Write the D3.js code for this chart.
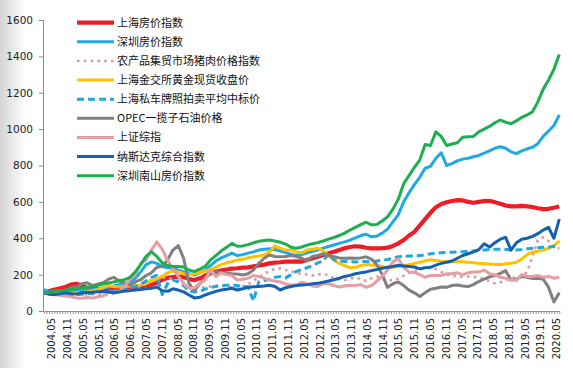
<!DOCTYPE html>
<html><head><meta charset="utf-8">
<script src="https://cdn.jsdelivr.net/npm/d3@7"></script>
<style>
html,body{margin:0;padding:0;background:#fff;}
svg{display:block;}
</style></head>
<body>
<svg id="c" width="573" height="368"></svg>
<script>
// ---- data (bimonthly readings, 2004.02 .. 2020.06) ----
const seriesNames = ["上海房价指数","深圳房价指数","农产品集贸市场猪肉价格指数","上海金交所黄金现货收盘价","上海私车牌照拍卖平均中标价","OPEC一揽子石油价格","上证综指","纳斯达克综合指数","深圳南山房价指数"];
const shHouse = [100,110,118,125,132,145,150,140,128,125,122,120,121,123,125,127,130,133,136,140,145,155,172,182,187,189,188,175,170,180,195,207,215,222,228,233,235,238,240,245,250,255,262,266,268,271,272,273,272,280,290,298,308,318,326,335,345,352,356,354,348,344,344,345,348,358,372,390,415,435,470,505,540,570,588,598,605,610,608,600,595,600,604,606,598,590,580,575,575,578,575,572,565,560,562,568,575];
const szHouse = [120,100,98,100,103,105,108,112,115,118,122,128,132,138,145,150,160,180,215,255,270,262,245,238,235,225,215,205,198,210,225,250,275,292,305,318,305,310,318,325,335,340,342,338,330,322,312,306,310,320,328,335,345,355,363,372,380,390,402,415,422,408,412,428,450,490,530,600,650,695,735,785,795,840,870,800,810,825,835,840,848,855,868,880,895,903,895,875,865,880,892,900,920,960,990,1020,1078];
const pork = [100,102,105,103,100,98,95,92,90,92,88,86,88,100,110,108,112,125,140,160,170,178,185,182,175,168,158,150,140,132,128,135,140,138,135,130,128,135,148,165,185,205,220,232,235,225,218,210,205,200,195,200,205,195,180,175,170,178,185,175,165,180,190,180,172,168,178,195,210,220,228,235,238,230,215,200,195,190,188,190,188,185,175,165,152,158,170,180,185,188,215,300,390,405,385,350,345];
const gold = [100,98,100,103,100,98,100,102,105,110,118,128,140,135,132,135,138,140,143,150,165,175,190,210,220,215,205,198,205,212,220,228,240,255,265,272,280,285,292,298,302,308,325,358,345,335,335,325,320,335,340,345,332,305,280,262,250,238,240,250,255,253,250,245,236,240,244,248,255,262,268,276,282,278,274,272,270,272,271,268,265,262,260,258,256,255,260,262,268,285,310,325,328,335,345,360,385];
const plate = [100,95,92,88,86,88,90,92,95,98,102,106,110,112,115,118,125,135,148,165,185,195,90,150,170,160,140,110,105,108,120,130,135,140,142,143,140,136,134,55,160,168,175,185,189,182,200,218,228,238,250,265,275,316,282,276,272,271,270,272,272,270,275,280,283,290,298,300,302,303,305,308,315,318,320,322,323,325,326,328,330,333,336,338,339,340,338,336,335,338,342,345,348,350,352,355,357];
const opec = [100,103,112,110,108,130,128,150,155,140,148,155,175,185,165,155,142,160,172,195,210,240,245,280,335,360,290,150,112,150,180,205,215,212,208,205,203,198,205,225,262,290,308,300,298,300,305,300,290,275,300,305,315,305,298,292,290,292,290,292,298,285,255,200,130,150,160,140,115,100,80,100,120,125,132,130,140,143,138,134,145,162,175,188,195,207,222,170,175,190,185,178,180,175,130,50,100];
const sse = [100,95,90,88,82,78,72,70,74,71,78,83,105,100,108,135,175,200,262,280,335,380,340,280,235,190,150,125,128,150,170,225,190,210,200,195,170,175,180,195,190,180,170,165,160,148,143,143,158,150,138,135,150,150,140,132,138,142,140,145,130,140,165,190,225,270,288,240,215,212,200,185,195,195,195,205,205,210,200,210,215,215,225,205,200,185,180,170,168,200,190,190,195,185,190,180,186];
const nasdaq = [100,92,90,95,100,95,93,100,102,103,106,108,105,100,104,110,112,115,118,122,125,132,112,108,122,115,105,88,72,75,88,98,108,115,120,125,115,122,130,133,135,137,142,135,115,128,135,140,143,145,150,152,158,165,172,180,190,196,205,210,215,222,228,235,240,245,252,248,245,242,232,238,240,252,262,268,275,290,305,315,325,338,370,352,375,395,405,335,375,395,400,410,425,445,460,400,505];
const nanshan = [100,103,108,110,115,118,122,127,130,136,142,148,154,160,166,172,185,215,255,300,325,300,265,250,244,245,242,225,217,230,245,280,305,330,350,372,356,358,365,375,383,388,390,385,378,368,350,345,352,362,370,376,385,395,404,415,428,445,460,475,488,474,476,495,518,560,615,700,745,790,830,915,910,985,960,910,918,925,955,958,960,985,1000,1015,1035,1050,1038,1030,1045,1065,1078,1095,1150,1220,1270,1330,1410];

const yTicks = [0,200,400,600,800,1000,1200,1400,1600];
const xTickLabels = ["2004.05","2004.11","2005.05","2005.11","2006.05","2006.11","2007.05","2007.11","2008.05","2008.11","2009.05","2009.11","2010.05","2010.11","2011.05","2011.11","2012.05","2012.11","2013.05","2013.11","2014.05","2014.11","2015.05","2015.11","2016.05","2016.11","2017.05","2017.11","2018.05","2018.11","2019.05","2019.11","2020.05"];

const seriesData = [shHouse, szHouse, pork, gold, plate, opec, sse, nasdaq, nanshan];
const colors = ["#ee1c25","#1ea9e6","#dc97a4","#ffc000","#1fa7e1","#808080","#e59ea3","#1560b0","#1fae4f"];
const widths = [4.2,3,2.6,3,3,3,3,3,3];
const dashes = [null,null,"2.6,4.2",null,"7,4",null,null,null,null];

// ---- layout ----
const svg = d3.select("#c");
const defs = svg.append("defs");
const grad = defs.append("linearGradient").attr("id","lg").attr("x1","0").attr("x2","1").attr("y1","0").attr("y2","0");
grad.append("stop").attr("offset","0").attr("stop-color","#d4d4d4");
grad.append("stop").attr("offset","1").attr("stop-color","#ffffff");
svg.append("rect").attr("width",573).attr("height",368).attr("fill","#fff");
svg.append("rect").attr("x",0).attr("y",0).attr("width",26).attr("height",368).attr("fill","url(#lg)");

const y = d3.scaleLinear().domain([0,1600]).range([311,20]);
// month index relative to 2004.05
const xm = d3.scaleLinear().domain([-3,193]).range([43.8,559.3]);
const nPts = shHouse.length;
const xi = d3.scaleLinear().domain([0,nPts-1]).range([xm(-3)+0.3, xm(193)]);

// y axis
const yAxis = d3.axisLeft(y).tickValues(yTicks).tickSize(4).tickPadding(6).tickFormat(d3.format("d"));
const gy = svg.append("g").attr("transform","translate(43,0)").call(yAxis);
gy.select(".domain").attr("stroke","#8c8c8c");
gy.selectAll(".tick line").attr("stroke","#8c8c8c");
gy.selectAll("text").attr("font-family","DejaVu Sans, sans-serif").attr("font-size",10.5).attr("fill","#222");

// x axis minor ticks
const monthTicks = d3.range(-3,194);
const xAxis = d3.axisBottom(xm).tickValues(monthTicks).tickSize(3).tickSizeOuter(0).tickFormat("");
const gx = svg.append("g").attr("transform","translate(0,311)").call(xAxis);
gx.select(".domain").attr("stroke","#8c8c8c");
gx.selectAll(".tick line").attr("stroke","#9a9a9a");

// x labels
svg.append("g").selectAll("text").data(xTickLabels).join("text")
  .attr("transform",(d,i)=>`translate(${xm(i*6)+3.6},318) rotate(-90)`)
  .attr("text-anchor","end")
  .attr("font-family","DejaVu Sans, sans-serif").attr("font-size",10).attr("fill","#222")
  .text(d=>d);

// lines
const line = d3.line().x((d,i)=>xi(i)).y(d=>y(d));
const gl = svg.append("g");
seriesData.forEach((s,j)=>{
  const p = gl.append("path").datum(s).attr("d",line)
    .attr("fill","none").attr("stroke",colors[j]).attr("stroke-width",widths[j])
    .attr("stroke-linejoin","round");
  if(dashes[j]) p.attr("stroke-dasharray",dashes[j]);
});

// legend
const lg = svg.append("g");
seriesNames.forEach((n,j)=>{
  const cy = 22.7 + j*19.12;
  const l = lg.append("line").attr("x1",77).attr("x2",114).attr("y1",cy).attr("y2",cy)
    .attr("stroke",colors[j]).attr("stroke-width",widths[j]);
  if(dashes[j]) l.attr("stroke-dasharray",dashes[j]);
  lg.append("text").attr("x",117).attr("y",cy+4)
    .attr("font-family","Noto Sans CJK SC, sans-serif").attr("font-size",11).attr("fill","#111")
    .text(n);
});
</script>
</body></html>
